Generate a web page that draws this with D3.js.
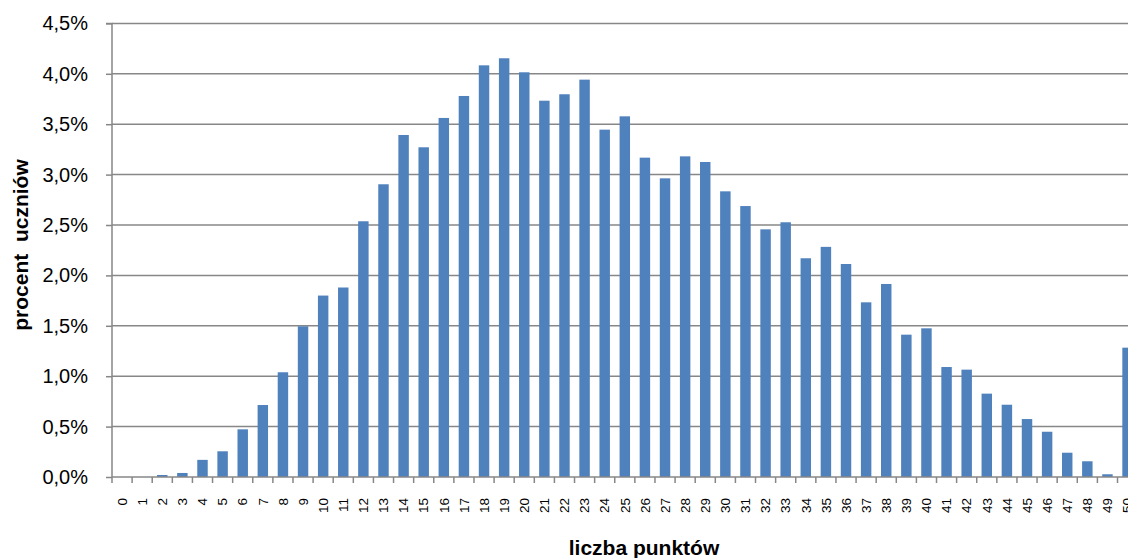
<!DOCTYPE html>
<html><head><meta charset="utf-8">
<script src="https://cdn.jsdelivr.net/npm/d3@7"></script>
<style>body{margin:0;background:#fff;overflow:hidden}svg{display:block}</style>
</head><body>
<svg id="chart" width="1128" height="558"></svg>
<script>
const categories = ["0","1","2","3","4","5","6","7","8","9","10","11","12","13","14","15","16","17","18","19","20","21","22","23","24","25","26","27","28","29","30","31","32","33","34","35","36","37","38","39","40","41","42","43","44","45","46","47","48","49","50"];
const values = [0,0,0.02,0.04,0.17,0.255,0.473,0.714,1.039,1.495,1.80,1.88,2.537,2.904,3.393,3.271,3.562,3.78,4.084,4.154,4.015,3.733,3.797,3.942,3.446,3.578,3.168,2.963,3.181,3.125,2.834,2.688,2.457,2.527,2.17,2.283,2.113,1.733,1.915,1.412,1.475,1.091,1.065,0.827,0.717,0.575,0.449,0.241,0.156,0.027,1.283];
const yTicks = [0,0.5,1,1.5,2,2.5,3,3.5,4,4.5];
const yTickLabels = ["0,0%","0,5%","1,0%","1,5%","2,0%","2,5%","3,0%","3,5%","4,0%","4,5%"];
const xTitle = "liczba punktów";
const yTitle = "procent  uczniów";

const svg = d3.select("#chart");
const mLeft = 112, mBottom = 477, mTop = 23.4, step = 20.11;
const x = d3.scaleBand().domain(categories).range([mLeft, mLeft + categories.length*step]).paddingInner(0.48).paddingOuter(0.24);
const y = d3.scaleLinear().domain([0,4.5]).range([mBottom, mTop]);
const gridColor = "#878787";

// gridlines
svg.append("g").selectAll("line").data(yTicks.filter(d=>d>0)).join("line")
  .attr("x1", mLeft).attr("x2", 1128).attr("y1", d=>y(d)).attr("y2", d=>y(d))
  .attr("stroke", gridColor).attr("stroke-width", 1.5);

// bars
svg.append("g").selectAll("rect").data(values).join("rect")
  .attr("x", (d,i)=>x(categories[i])).attr("width", x.bandwidth())
  .attr("y", d=>y(d)).attr("height", d=>mBottom - y(d))
  .attr("fill", "#4F81BD");

// y axis
const yAxis = d3.axisLeft(y).tickValues(yTicks).tickFormat((d,i)=>yTickLabels[i]).tickSize(6).tickPadding(18);
const gy = svg.append("g").attr("transform", `translate(${mLeft},0)`).call(yAxis);
gy.select(".domain").attr("stroke", gridColor).attr("stroke-width", 1.5).attr("d", `M-6,${mTop}H0V${mBottom}`);
gy.selectAll(".tick line").attr("stroke", gridColor).attr("stroke-width", 1.5);
gy.selectAll(".tick text").attr("font-family", "Liberation Sans, Arial, sans-serif").attr("font-size", 20).attr("fill", "#000");

// x axis
const xAxis = d3.axisBottom(x).tickSize(0).tickPadding(0);
const gx = svg.append("g").attr("transform", `translate(0,${mBottom})`).call(xAxis);
gx.select(".domain").attr("stroke", gridColor).attr("stroke-width", 1.5).attr("d", `M${mLeft},0H1128`);
gx.selectAll(".tick text")
  .attr("font-family", "Liberation Sans, Arial, sans-serif").attr("font-size", 13.5).attr("fill", "#000")
  .attr("text-anchor", "end").attr("transform", "rotate(-90)")
  .attr("x", -21).attr("y", 0).attr("dy", "0.35em");
// tick marks at band boundaries
const bounds = categories.map(c => x(c) - (x.step()-x.bandwidth())/2);
gx.append("g").selectAll("line").data(bounds).join("line")
  .attr("x1", d=>d).attr("x2", d=>d).attr("y1", 0).attr("y2", 6)
  .attr("stroke", gridColor).attr("stroke-width", 1.5);

// titles
svg.append("text").attr("x", 644).attr("y", 555).attr("text-anchor", "middle")
  .attr("font-family", "Liberation Sans, Arial, sans-serif").attr("font-weight", "bold").attr("font-size", 21)
  .text(xTitle);
svg.append("text").attr("transform", "translate(28,245) rotate(-90)").attr("text-anchor", "middle")
  .style("white-space", "pre")
  .attr("font-family", "Liberation Sans, Arial, sans-serif").attr("font-weight", "bold").attr("font-size", 21)
  .text(yTitle);
</script>
</body></html>
